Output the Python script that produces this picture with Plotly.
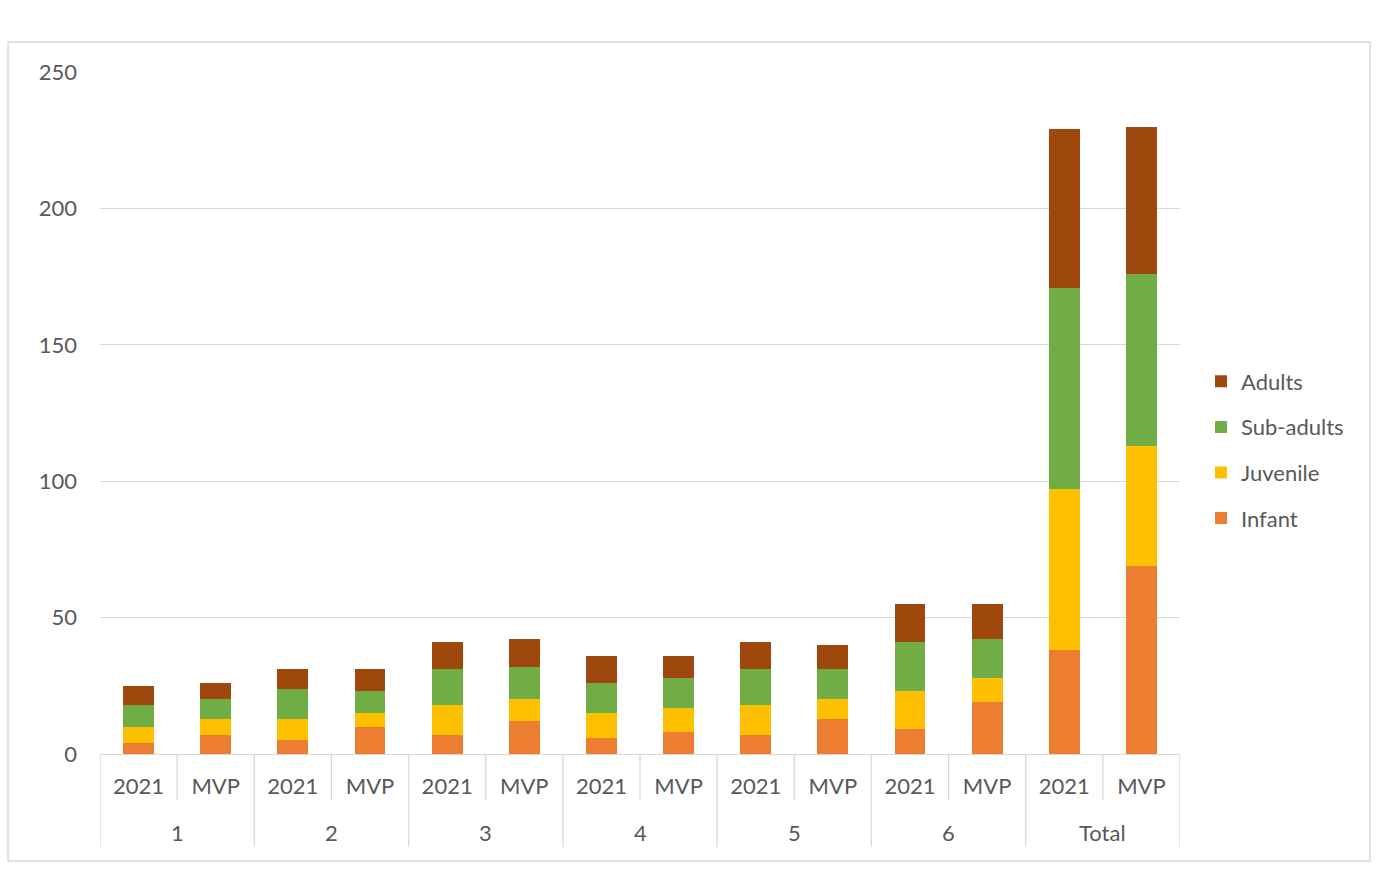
import plotly.graph_objects as go

groups = ["1", "2", "3", "4", "5", "6", "Total"]
subs = ["2021", "MVP"]

infant = [4, 7, 5, 10, 7, 12, 6, 8, 7, 13, 9, 19, 38, 69]
juvenile = [6, 6, 8, 5, 11, 8, 9, 9, 11, 7, 14, 9, 59, 44]
sub_adults = [8, 7, 11, 8, 13, 12, 11, 11, 13, 11, 18, 14, 74, 63]
adults = [7, 6, 7, 8, 10, 10, 10, 8, 10, 9, 14, 13, 58, 54]

series = [
    ("Infant", infant, "#ED7D31"),
    ("Juvenile", juvenile, "#FFC000"),
    ("Sub-adults", sub_adults, "#70AD47"),
    ("Adults", adults, "#9E480E"),
]

cats = [f"{g}|{s}" for g in groups for s in subs]
labels = [s for g in groups for s in subs]

FONT = "Lato"
TXT = "#595959"
LINE = "#D9D9D9"

fig = go.Figure()
for i, (name, vals, col) in enumerate(series):
    fig.add_trace(go.Bar(x=cats, y=vals, name=name, marker_color=col,
                         marker_line_width=0, legendgroup=name,
                         legendrank=1000 - i))

W, H = 1394, 877
L, R, T, B = 100, 214, 72, 123
pw, ph = W - L - R, H - T - B

def py(p):
    return (H - B - p) / ph

def px(p):
    return (p - L) / pw

shapes = []
n = len(cats)
for k in range(n + 1):
    bottom = py(847) if k % 2 == 0 else py(800)
    shapes.append(dict(type="line", xref="x", yref="paper", x0=k - 0.5, x1=k - 0.5,
                       y0=0, y1=bottom, line=dict(color=LINE, width=1.3)))
shapes.append(dict(type="rect", xref="paper", yref="paper", x0=px(8), x1=px(1370),
                   y0=py(861), y1=py(42), line=dict(color=LINE, width=1.5)))

annotations = []
for i, g in enumerate(groups):
    annotations.append(dict(xref="x", yref="paper", x=2 * i + 0.5, y=py(833), text=g,
                            showarrow=False, yanchor="middle",
                            font=dict(family=FONT, size=22, color=TXT)))

fig.update_layout(
    width=W, height=H,
    margin=dict(l=L, r=R, t=T, b=B),
    barmode="stack",
    bargap=0.6,
    plot_bgcolor="white",
    paper_bgcolor="white",
    font=dict(family=FONT, size=22, color=TXT),
    shapes=shapes,
    annotations=annotations,
    legend=dict(x=px(1201), y=py(450), xanchor="left", yanchor="middle",
                traceorder="grouped", tracegroupgap=14,
                font=dict(family=FONT, size=22, color=TXT)),
    xaxis=dict(type="category", tickvals=cats, ticktext=labels, showgrid=False,
               showline=True, linecolor=LINE, linewidth=1.3, ticks="",
               ticklabelstandoff=12, range=[-0.5, n - 0.5]),
    yaxis=dict(range=[0, 250], dtick=50, showgrid=True, gridcolor=LINE, gridwidth=1.3,
               zeroline=False, showline=False, ticks="", ticklabelstandoff=22),
)

fig.write_html("out.html")
